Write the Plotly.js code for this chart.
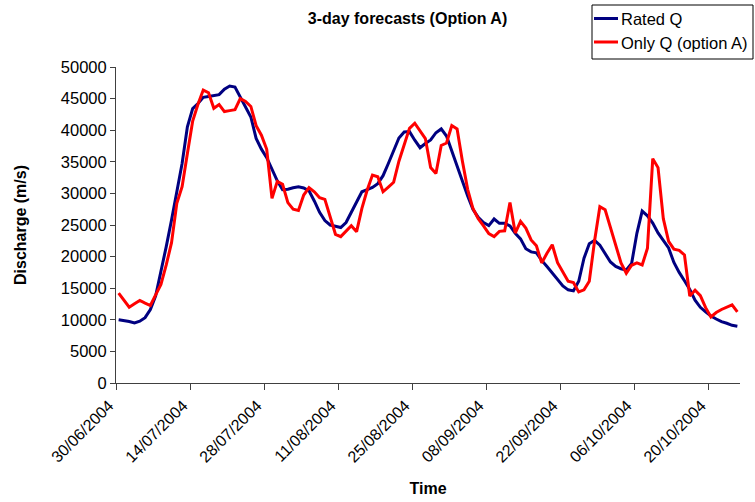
<!DOCTYPE html>
<html>
<head>
<meta charset="utf-8">
<script src="https://cdn.plot.ly/plotly-3.0.1.min.js"></script>
<style>html,body{margin:0;padding:0;background:#fff;}#chart{width:755px;height:502px;}</style>
</head>
<body>
<div id="chart"></div>
<script>
// ---- data (daily values, first day 30/06/2004) ----
var startDate = '2004-06-30';
var ratedQ = [
  10000, 9920, 9740, 9520, 9780, 10340, 11630, 13800, 17500, 21580,
  25790, 30000, 34730, 40530, 43420, 44210, 45200, 45340, 45450, 45630,
  46500, 47000, 46840, 45300, 43800, 42100, 38700, 37000, 35650, 33680,
  32000, 30600, 30650, 30900, 31050, 30850, 30400, 28800, 27000, 25700,
  25000, 24800, 24600, 25400, 27000, 28700, 30260, 30600, 30950, 31550,
  32800, 34730, 36700, 38760, 39730, 39780, 38420, 37230, 37900, 38450,
  39600, 40200, 39070, 36660, 34210, 31700, 29600, 27500, 26200, 25400,
  24900, 25950, 25260, 25260, 24870, 23700, 22800, 21250, 20750, 20600,
  19400, 18420, 17340, 16400, 15350, 14740, 14580, 16100, 19740, 22050,
  22580, 21800, 20450, 19150, 18450, 18080, 17870, 18900, 23680, 27200,
  26450, 25300, 23760, 22630, 21360, 19080, 17500, 16180, 14800, 13100,
  11970, 11240, 10600, 10130, 9710, 9450, 9130, 8980
];
var onlyQ = [
  14210, 13100, 12000, 12530, 13050, 12630, 12260, 13950, 15600, 18680,
  22200, 28420, 31050, 36300, 41450, 44100, 46350, 45920, 43470, 44050,
  42950, 43100, 43240, 45000, 44550, 43760, 40710, 39210, 36970, 29210,
  31900, 31450, 28550, 27500, 27300, 29740, 30900, 30260, 29310, 29050,
  26310, 23530, 23160, 23950, 24890, 23950, 27630, 30530, 32900, 32630,
  30260, 31000, 31760, 35100, 37760, 40300, 41100, 39920, 38680, 34080,
  33160, 37580, 37970, 40730, 40210, 35130, 30650, 27600, 26000, 24850,
  23630, 23160, 24000, 24080, 28550, 23730, 25580, 24520, 22630, 21700,
  19000, 20530, 21870, 19030, 17450, 16100, 15900, 14420, 14740, 16100,
  22500, 27900, 27420, 24550, 21600, 19000, 17370, 18630, 19000, 18680,
  21310, 35500, 34080, 26000, 22400, 21180, 21000, 20260, 13770, 14690,
  13810, 11920, 10450, 11150, 11630, 12020, 12370, 11260
];
var seriesNames = ['Rated Q', 'Only Q (option A)'];
var chartTitle = '3-day forecasts (Option A)';
var xTitle = 'Time';
var yTitle = 'Discharge (m/s)';

// dates: each daily value is drawn at mid-day of its date
function pad(n){return (n<10?'0':'')+n;}
var dates = [];
var t0 = Date.parse(startDate + 'T00:00:00Z');
for (var i = 0; i < ratedQ.length; i++) {
  var d = new Date(t0 + i*86400000);
  dates.push(d.getUTCFullYear()+'-'+pad(d.getUTCMonth()+1)+'-'+pad(d.getUTCDate())+' 12:00');
}

// ---- layout helpers (pixel -> paper) ----
var M = {l:116, r:15, t:67, b:119};
var W = 755, H = 502;
var PW = W - M.l - M.r, PH = H - M.t - M.b;
function px(x){return (x - M.l)/PW;}
function py(y){return (H - M.b - y)/PH;}

var FONT = 'Liberation Sans, Arial, sans-serif';
var blue = '#000080', red = '#ff0000';

var traces = [
  {x: dates, y: ratedQ, name: seriesNames[0], type: 'scatter', mode: 'lines',
   line: {color: blue, width: 3}},
  {x: dates, y: onlyQ, name: seriesNames[1], type: 'scatter', mode: 'lines',
   line: {color: red, width: 3}}
];

var layout = {
  width: W, height: H,
  margin: M,
  paper_bgcolor: '#fff', plot_bgcolor: '#fff',
  showlegend: false,
  font: {family: FONT, color: '#000', size: 16},
  title: {text: '<b>' + chartTitle + '</b>', font: {family: FONT, size: 16, color: '#000'},
          xref: 'paper', x: px(407.5), xanchor: 'center',
          yref: 'container', y: 1 - 18/H, yanchor: 'middle'},
  xaxis: {
    type: 'date',
    range: ['2004-06-30', '2004-10-26'],
    tick0: '2004-06-30', dtick: 14*86400000,
    tickformat: '%d/%m/%Y', tickangle: -45,
    ticklabelshift: -7,
    ticks: 'outside', ticklen: 6, tickcolor: '#404040', tickwidth: 1,
    showline: true, linecolor: '#404040', linewidth: 1,
    showgrid: false, zeroline: false,
    tickfont: {family: FONT, size: 16, color: '#000'},
    title: {text: '<b>' + xTitle + '</b>', font: {family: FONT, size: 16, color: '#000'}, standoff: 18},
    automargin: false
  },
  yaxis: {
    range: [0, 50000], dtick: 5000, tick0: 0, tickformat: 'd',
    ticks: 'outside', ticklen: 5, tickcolor: '#404040', tickwidth: 1,
    showline: true, linecolor: '#404040', linewidth: 1,
    showgrid: false, zeroline: false,
    tickfont: {family: FONT, size: 16.5, color: '#000'},
    title: {text: '<b>' + yTitle + '</b>', font: {family: FONT, size: 16, color: '#000'}, standoff: 30},
    automargin: false
  },
  shapes: [
    {type: 'rect', xref: 'paper', yref: 'paper', x0: px(592), x1: px(753), y0: py(5), y1: py(59),
     line: {color: '#000', width: 1}, fillcolor: 'rgba(0,0,0,0)'},
    {type: 'line', xref: 'paper', yref: 'paper', x0: px(594), x1: px(618), y0: py(18.5), y1: py(18.5),
     line: {color: blue, width: 3}},
    {type: 'line', xref: 'paper', yref: 'paper', x0: px(594), x1: px(618), y0: py(42), y1: py(42),
     line: {color: red, width: 3}}
  ],
  annotations: [
    {xref: 'paper', yref: 'paper', x: px(619), y: py(19), xanchor: 'left', yanchor: 'middle',
     text: seriesNames[0], showarrow: false, font: {family: FONT, size: 16.5, color: '#000'}},
    {xref: 'paper', yref: 'paper', x: px(619), y: py(42.5), xanchor: 'left', yanchor: 'middle',
     text: seriesNames[1], showarrow: false, font: {family: FONT, size: 16.5, color: '#000'}}
  ]
};

Plotly.newPlot('chart', traces, layout, {displayModeBar: false, staticPlot: true});
</script>
</body>
</html>
